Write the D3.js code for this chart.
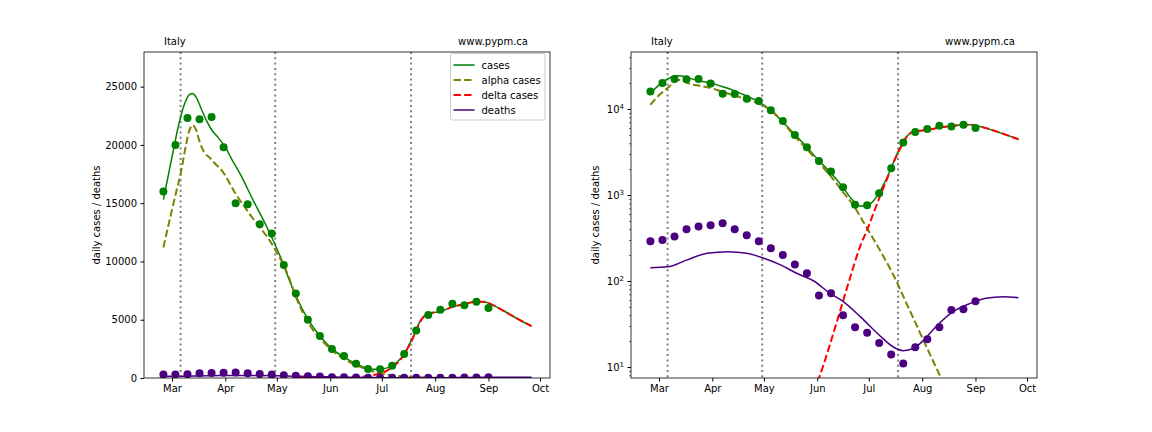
<!DOCTYPE html>
<html>
<head>
<meta charset="utf-8">
<script src="https://cdn.jsdelivr.net/npm/d3@7"></script>
<style>
	body { margin: 0; background: #fff; }
	svg { font-family: 'DejaVu Sans', sans-serif; }
</style>
</head>
<body>
<svg width="1152" height="432"></svg>
<script>

// weekly reported values (Italy, 2021)
const pointDates = [ '2021-02-24', '2021-03-03', '2021-03-10', '2021-03-17', '2021-03-24', '2021-03-31',
	'2021-04-07', '2021-04-14', '2021-04-21', '2021-04-28', '2021-05-05', '2021-05-12', '2021-05-19',
	'2021-05-26', '2021-06-02', '2021-06-09', '2021-06-16', '2021-06-23', '2021-06-30', '2021-07-07',
	'2021-07-14', '2021-07-21', '2021-07-28', '2021-08-04', '2021-08-11', '2021-08-18', '2021-08-25', '2021-09-01' ]
const casePoints = [ 16000, 20000, 22300, 22200, 22400, 19800, 15000, 14900, 13200, 12400, 9700, 7250, 5000, 3600,
	2480, 1880, 1230, 770, 760, 1050, 2050, 4070, 5400, 5850, 6380, 6250, 6550, 6000 ]
const deathPoints = [ 290, 300, 330, 400, 430, 445, 470, 400, 340, 290, 240, 200, 156, 123, 68, 72, 40, 29, 25,
	19, 14, 11, 17, 21, 29, 46, 47, 58 ]

// model curves, days counted from 1 March 2021
const caseDays = [ -5, -2, 1, 4, 7, 10, 12, 14, 17, 20, 23, 27, 31, 35, 40, 47, 55, 63, 70, 79, 86, 93, 100, 107,
	112, 117, 121, 125, 128, 131, 135, 138, 141, 144, 147, 150, 156, 163, 170, 177, 181, 186, 193, 200, 209 ]
const caseCurve = [ 15300, 17500, 19700, 21800, 23400, 24300, 24400, 24100, 23100, 22100, 21300, 20600, 19800,
	18700, 17400, 15300, 13000, 10400, 7750, 5050, 3600, 2500, 1800, 1220, 900, 745, 755, 870, 1060, 1380, 2050,
	2900, 3800, 4800, 5350, 5550, 5700, 6100, 6350, 6550, 6550, 6300, 5750, 5150, 4450 ]

const alphaDays = [ -5, -1, 3, 5, 8, 10, 12, 14, 16, 19, 22, 25, 29, 37, 45, 59, 67, 73, 80, 87, 94, 101, 107, 113,
	119, 125, 131, 137, 143, 149, 155, 161, 167, 175, 185, 195, 209 ]
const alphaCurve = [ 11200, 13800, 16300, 17500, 19900, 21200, 21700, 21300, 20300, 19300, 18900, 18400, 17800,
	15800, 14100, 11260, 8980, 6600, 4550, 3250, 2250, 1550, 1080, 760, 480, 300, 185, 110, 60, 33, 18, 10, 5.5,
	2.6, 1.0, 0.4, 0.12 ]

const deltaDays = [ 74, 80, 86, 93, 100, 106, 112, 117, 121, 125, 130, 134, 137, 140, 142, 144, 146, 148, 150, 156,
	163, 170, 177, 181, 186, 193, 200, 209 ]
const deltaCurve = [ 0.6, 1.4, 3.3, 7.4, 20, 50, 125, 255, 392, 640, 1150, 1800, 2550, 3400, 4100, 4750, 5200,
	5450, 5550, 5700, 6100, 6350, 6550, 6550, 6300, 5750, 5150, 4450 ]

const deathDays = [ -5, 5, 16, 28, 40, 51, 61, 71, 80, 90, 99, 107, 117, 128, 136, 142, 148, 154, 161, 171, 181,
	190, 200, 209 ]
const deathCurve = [ 143, 146, 175, 210, 219, 210, 184, 153, 123, 100, 73, 58, 38.5, 23.6, 17.2, 15.5, 16.5, 20.6,
	29.4, 44, 55, 63, 65.8, 64 ]

const changeDates = [ '2021-03-06', '2021-04-30', '2021-07-18' ]
const monthTicks = [ '2021-03-01', '2021-04-01', '2021-05-01', '2021-06-01', '2021-07-01', '2021-08-01', '2021-09-01', '2021-10-01' ]
const linearTicks = [ 0, 5000, 10000, 15000, 20000, 25000 ]
const logTicks = [ 10, 100, 1000, 10000 ]

const legendItems = [
	{ name: 'cases', color: 'green', dash: null },
	{ name: 'alpha cases', color: 'olive', dash: '7.4,3.2' },
	{ name: 'delta cases', color: 'red', dash: '7.4,3.2' },
	{ name: 'deaths', color: 'indigo', dash: null }
]

const svg = d3.select( 'svg' ),
	start = Date.UTC( 2021, 2, 1 ),
	dayDate = d => new Date( start + d * 864e5 ),
	parse = s => new Date( s + 'T00:00:00Z' ),
	yTop = 52,
	yBottom = 378,
	panelWidth = 406

function drawPanel( x0, isLog, idx ) {

	const x = d3.scaleUtc()
		.domain( [ dayDate( -16.28 ), dayDate( 219.77 ) ] )
		.range( [ x0, x0 + panelWidth ] )

	const y = isLog
		? d3.scaleLog().domain( [ 7.45, 46000 ] ).range( [ yBottom, yTop ] )
		: d3.scaleLinear().domain( [ 0, 27970 ] ).range( [ yBottom, yTop ] )

	const g = svg.append( 'g' )

	svg.append( 'clipPath' )
		.attr( 'id', 'clip' + idx )
		.append( 'rect' )
		.attr( 'x', x0 ).attr( 'y', yTop )
		.attr( 'width', panelWidth ).attr( 'height', yBottom - yTop )

	const plot = g.append( 'g' ).attr( 'clip-path', `url(#clip${idx})` )

	// transition dates
	plot.selectAll( 'line.change' )
		.data( changeDates )
		.enter()
		.append( 'line' )
		.attr( 'x1', d => x( parse( d ) ) ).attr( 'x2', d => x( parse( d ) ) )
		.attr( 'y1', yTop ).attr( 'y2', yBottom )
		.attr( 'stroke', 'grey' )
		.attr( 'stroke-width', 2 )
		.attr( 'stroke-dasharray', '2,3.3' )

	const line = ( days, vals ) => d3.line()
		.defined( ( d, i ) => !isLog || vals[ i ] > 0 )
		.x( ( d, i ) => x( dayDate( days[ i ] ) ) )
		.y( ( d, i ) => y( vals[ i ] ) )
		.curve( d3.curveMonotoneX )( days )

	const curves = [
		{ days: caseDays, vals: caseCurve, color: 'green', w: 1.5, dash: null },
		{ days: alphaDays, vals: alphaCurve, color: 'olive', w: 2, dash: '7.4,3.2' },
		{ days: deltaDays, vals: deltaCurve, color: 'red', w: 2, dash: '7.4,3.2' },
		{ days: deathDays, vals: deathCurve, color: 'indigo', w: 1.5, dash: null }
	]

	curves.forEach( c => {
		plot.append( 'path' )
			.attr( 'd', line( c.days, c.vals ) )
			.attr( 'fill', 'none' )
			.attr( 'stroke', c.color )
			.attr( 'stroke-width', c.w )
			.attr( 'stroke-dasharray', c.dash )
	})

	plot.selectAll( 'circle.case' )
		.data( casePoints )
		.enter()
		.append( 'circle' )
		.attr( 'class', 'case' )
		.attr( 'cx', ( d, i ) => x( parse( pointDates[ i ] ) ) )
		.attr( 'cy', d => y( d ) )
		.attr( 'r', 4 )
		.attr( 'fill', 'green' )

	plot.selectAll( 'circle.death' )
		.data( deathPoints )
		.enter()
		.append( 'circle' )
		.attr( 'class', 'death' )
		.attr( 'cx', ( d, i ) => x( parse( pointDates[ i ] ) ) )
		.attr( 'cy', d => y( d ) )
		.attr( 'r', 4 )
		.attr( 'fill', 'indigo' )

	// x axis
	const xAxis = g.append( 'g' )
		.attr( 'transform', `translate(0,${yBottom})` )
		.call( d3.axisBottom( x ).tickValues( monthTicks.map( parse ) ).tickFormat( d3.utcFormat( '%b' ) ).tickSizeInner( 3.5 ).tickSizeOuter( 0 ).tickPadding( 3.5 ) )
	xAxis.select( '.domain' ).remove()

	// y axis
	const yAxis = g.append( 'g' )
		.attr( 'transform', `translate(${x0},0)` )

	if ( isLog ) {

		const minor = []
		for ( let e = 0; e <= 4; e++ ) for ( let m = 2; m <= 9; m++ ) {
			const v = m * Math.pow( 10, e )
			if ( v > 7.45 && v < 46000 ) minor.push( v )
		}
		yAxis.call( d3.axisLeft( y ).tickValues( minor ).tickFormat( '' ).tickSizeInner( 2 ).tickSizeOuter( 0 ) )
		yAxis.selectAll( '.tick line' ).attr( 'stroke-width', 0.6 )
		yAxis.select( '.domain' ).remove()

		const major = g.append( 'g' ).attr( 'transform', `translate(${x0},0)` )
			.call( d3.axisLeft( y ).tickValues( logTicks ).tickFormat( '' ).tickSizeInner( 3.5 ).tickSizeOuter( 0 ) )
		major.select( '.domain' ).remove()
		major.selectAll( '.tick text' ).remove()
		major.selectAll( '.tick' ).append( 'text' )
			.attr( 'x', -7 )
			.attr( 'dy', '0.32em' )
			.attr( 'fill', '#000' )
			.attr( 'text-anchor', 'end' )
			.attr( 'font-size', 10 )
			.each( function ( d ) {
				const t = d3.select( this )
				t.append( 'tspan' ).text( '10' )
				t.append( 'tspan' ).attr( 'font-size', 7 ).attr( 'dy', '-0.5em' ).text( Math.round( Math.log10( d ) ) )
			})

	} else {

		yAxis.call( d3.axisLeft( y ).tickValues( linearTicks ).tickFormat( d3.format( 'd' ) ).tickSizeInner( 3.5 ).tickSizeOuter( 0 ).tickPadding( 3.5 ) )
		yAxis.select( '.domain' ).remove()

	}

	g.selectAll( '.tick text' ).attr( 'font-size', 10 ).attr( 'font-family', 'DejaVu Sans, sans-serif' )
	g.selectAll( '.tick tspan' ).filter( function () { return this.previousSibling } ).attr( 'font-size', 7 )

	// frame
	g.append( 'rect' )
		.attr( 'x', x0 ).attr( 'y', yTop )
		.attr( 'width', panelWidth ).attr( 'height', yBottom - yTop )
		.attr( 'fill', 'none' )
		.attr( 'stroke', '#000' )
		.attr( 'stroke-width', 0.8 )

	g.append( 'text' )
		.attr( 'transform', `translate(${x0 - ( isLog ? 32 : 44 )},${( yTop + yBottom ) / 2}) rotate(-90)` )
		.attr( 'text-anchor', 'middle' )
		.attr( 'font-size', 10 )
		.text( 'daily cases / deaths' )

	g.append( 'text' )
		.attr( 'x', x0 + 20 ).attr( 'y', 45 )
		.attr( 'font-size', 10 )
		.text( 'Italy' )

	g.append( 'text' )
		.attr( 'x', x0 + panelWidth - 22 ).attr( 'y', 45 )
		.attr( 'text-anchor', 'end' )
		.attr( 'font-size', 10 )
		.text( 'www.pypm.ca' )

	if ( !isLog ) {

		const lg = g.append( 'g' ).attr( 'transform', `translate(${x0 + panelWidth - 99.5},${yTop + 1.5})` )

		lg.append( 'rect' )
			.attr( 'width', 94.5 ).attr( 'height', 66.5 )
			.attr( 'rx', 2 )
			.attr( 'fill', '#fff' )
			.attr( 'fill-opacity', 0.8 )
			.attr( 'stroke', '#ccc' )

		const row = lg.selectAll( 'g.row' )
			.data( legendItems )
			.enter()
			.append( 'g' )
			.attr( 'transform', ( d, i ) => `translate(0,${11.5 + i * 15})` )

		row.append( 'line' )
			.attr( 'x1', 3 ).attr( 'x2', 24 )
			.attr( 'stroke', d => d.color )
			.attr( 'stroke-width', d => d.dash ? 2 : 1.5 )
			.attr( 'stroke-dasharray', d => d.dash )

		row.append( 'text' )
			.attr( 'x', 31 )
			.attr( 'dy', '0.35em' )
			.attr( 'font-size', 10 )
			.text( d => d.name )

	}

}

drawPanel( 144, false, 0 )
drawPanel( 631, true, 1 )

</script>
</body>
</html>
